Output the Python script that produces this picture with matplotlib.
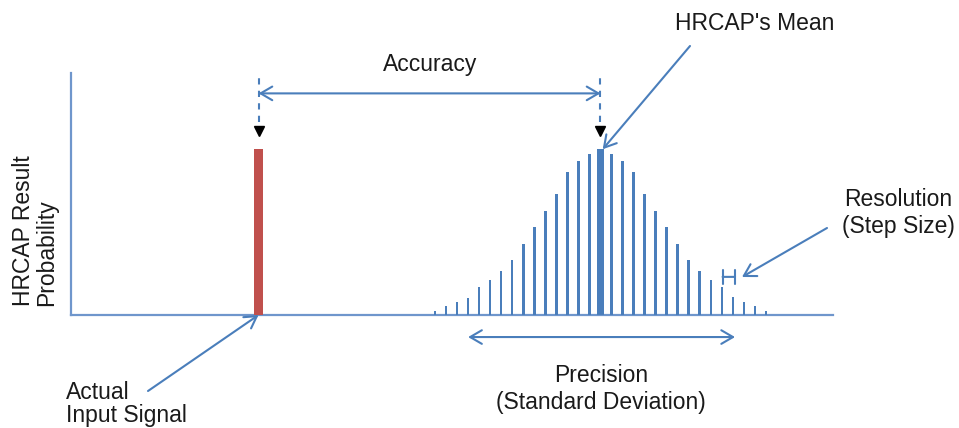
import matplotlib.pyplot as plt
import numpy as np

plt.rcParams['font.family'] = ['Liberation Sans', 'DejaVu Sans']

# distribution of results, in steps around the mean
steps = np.arange(-15, 16)
probs = [0.026, 0.053, 0.077, 0.105, 0.168, 0.212, 0.263, 0.329, 0.428, 0.531,
         0.628, 0.733, 0.865, 0.931, 0.972, 1.0, 0.972, 0.931, 0.865, 0.733,
         0.628, 0.531, 0.428, 0.329, 0.263, 0.212, 0.168, 0.107, 0.077, 0.053,
         0.026]
mean_step = 48.0
signal_step = 17.0
signal_prob = 1.0

blue = '#4A7EBB'
red = '#C0504D'
txt = '#1a1a1a'
H = 428


def fp(x, y):
    # figure pixels, measured from the top
    return (x, H - y)


fig = plt.figure(figsize=(9.59, 4.28), dpi=100)
ax = fig.add_axes([71 / 959, (H - 315) / H, 762 / 959, 242 / H])
ax.set_xlim(0, 69.08)
ax.set_ylim(0, 1.46)
for s in ['top', 'right']:
    ax.spines[s].set_visible(False)
for s in ['left', 'bottom']:
    ax.spines[s].set_color('#6F96CC')
    ax.spines[s].set_linewidth(1.6)
ax.set_xticks([])
ax.set_yticks([])

x = mean_step + steps
widths = [0.72 if s == 0 else 0.23 for s in steps]
ax.bar(x, probs, width=widths, color=blue, zorder=3)
ax.bar([signal_step], [signal_prob], width=0.75, color=red, zorder=3)

# dashed guides and markers
for xv in [signal_step, mean_step]:
    ax.plot([xv, xv], [1.165, 1.46], color=blue, lw=1.5, ls=(0, (3, 3)),
            clip_on=False)
    ax.plot([xv], [1.11], 'kv', ms=6.5, clip_on=False)

fs = 16.5
arrow = dict(color=blue, lw=1.5, mutation_scale=14, shrinkA=0, shrinkB=0)
head = ',head_length=0.6,head_width=0.35'

ax.annotate('', xy=(mean_step, 1.337), xytext=(signal_step, 1.337),
            arrowprops=dict(arrowstyle='<->' + head, **arrow),
            annotation_clip=False)
ax.annotate('Accuracy', xy=fp(430, 64), xycoords='figure pixels',
            ha='center', va='center', fontsize=fs, color=txt)

ax.annotate("HRCAP's Mean", xy=fp(755, 23), xycoords='figure pixels',
            ha='center', va='center', fontsize=fs, color=txt)
ax.annotate('', xy=(mean_step + 0.2, 1.0), xytext=fp(690, 46),
            textcoords='figure pixels',
            arrowprops=dict(arrowstyle='->' + head, **arrow),
            annotation_clip=False)

ax.annotate('Resolution\n(Step Size)', xy=fp(898, 213), xycoords='figure pixels',
            ha='center', va='center', fontsize=fs, color=txt, linespacing=1.2)
ax.annotate('', xy=fp(742, 277), xycoords='figure pixels',
            xytext=fp(827, 228), textcoords='figure pixels',
            arrowprops=dict(arrowstyle='->' + head, **arrow))
ax.annotate('', xy=(mean_step + 12.2, 0.23), xytext=(mean_step + 11.07, 0.23),
            arrowprops=dict(arrowstyle='|-|,widthA=0.5,widthB=0.5',
                            color=blue, lw=1.5, mutation_scale=10,
                            shrinkA=0, shrinkB=0), annotation_clip=False)

ax.annotate('', xy=(mean_step + 12.2, -0.133), xytext=(mean_step - 12.0, -0.133),
            arrowprops=dict(arrowstyle='<->' + head, **arrow),
            annotation_clip=False)
ax.annotate('Precision\n(Standard Deviation)', xy=fp(601, 389),
            xycoords='figure pixels', ha='center', va='center', fontsize=fs,
            color=txt, linespacing=1.2)

ax.annotate('', xy=(signal_step, 0.0), xytext=fp(148, 391),
            textcoords='figure pixels',
            arrowprops=dict(arrowstyle='->' + head, **arrow),
            annotation_clip=False)
ax.annotate('Actual\nInput Signal', xy=fp(66, 404), xycoords='figure pixels',
            ha='left', va='center', fontsize=fs, color=txt, linespacing=1.05)

ax.annotate('HRCAP Result\nProbability', xy=fp(35, 231),
            xycoords='figure pixels', ha='center', va='center', rotation=90,
            multialignment='left', fontsize=fs, color=txt, linespacing=1.0)

fig.savefig('out.png', dpi=100)
